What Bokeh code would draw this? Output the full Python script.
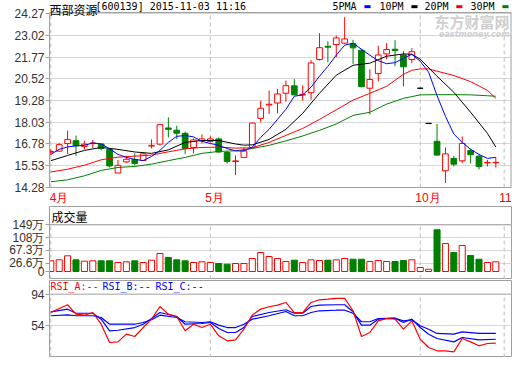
from bokeh.plotting import figure
from bokeh.layouts import column
from bokeh.models import FixedTicker, Label, Range1d, Span
from bokeh.embed import file_html
from bokeh.resources import INLINE

# ---------------- data ----------------
stock_name = "西部资源"
stock_info = "[600139] 2015-11-03 11:16"

month_pos = [0, 19, 44, 54]
month_labels = ["4月", "5月", "10月", "11月"]

price_ticks = [14.28, 15.53, 16.78, 18.03, 19.28, 20.52, 21.77, 23.02, 24.27]
price_tick_labels = ["14.28", "15.53", "16.78", "18.03", "19.28", "20.52", "21.77", "23.02", "24.27"]

vol_ticks = [0, 26.6, 67.3, 108, 149]
vol_tick_labels = ["0", "26.6万", "67.3万", "108万", "149万"]

rsi_ticks = [0, 54, 94]
rsi_tick_labels = ["0", "54", "94"]

ma_names = ["5PMA", "10PM", "20PM", "30PM"]
rsi_names = ["RSI_A:--", "RSI_B:--", "RSI_C:--"]

opens = [16.31, 16.37, 16.80, 16.97, 16.64, 16.80, 16.78, 16.47, 15.11, 15.75,
         15.89, 15.83, 16.66, 16.77, 17.70, 17.57, 17.39, 16.58, 16.96, 16.93,
         17.07, 16.29, 15.77, 16.01, 16.58, 18.25, 19.02, 19.13, 19.69, 20.12,
         19.59, 19.72, 21.63, 22.39, 22.49, 22.57, 22.53, 22.16, 19.98, 20.82,
         21.95, 22.22, 21.89, 21.63, 19.98, 17.96, 16.93, 15.24, 15.95, 15.81,
         16.41, 16.08, 15.69, 15.70]
highs = [16.48, 16.83, 17.54, 17.26, 16.97, 17.00, 16.80, 16.50, 15.86, 16.10,
         16.24, 16.25, 17.04, 17.92, 18.31, 17.83, 17.49, 17.10, 17.33, 17.22,
         17.16, 16.38, 16.12, 16.58, 18.00, 19.27, 19.85, 19.94, 20.42, 20.50,
         20.15, 21.59, 23.14, 22.68, 23.01, 24.06, 22.76, 22.24, 21.07, 22.42,
         22.57, 22.74, 22.11, 22.28, 19.98, 17.96, 17.93, 16.58, 16.09, 17.21,
         16.52, 16.14, 15.86, 16.01]
lows = [16.14, 16.33, 16.20, 16.10, 16.47, 16.55, 16.41, 15.43, 15.11, 15.69,
        15.55, 15.80, 16.52, 16.70, 17.16, 17.06, 16.21, 16.24, 16.81, 16.87,
        16.27, 15.66, 15.00, 16.00, 16.50, 18.02, 18.50, 18.54, 19.21, 19.57,
        19.27, 19.32, 21.57, 21.47, 21.76, 22.51, 21.38, 20.03, 18.48, 20.38,
        21.65, 21.24, 20.09, 21.42, 19.98, 17.96, 16.12, 14.54, 15.49, 15.69,
        15.66, 15.32, 15.49, 15.43]
closes = [16.35, 16.74, 17.03, 16.68, 16.77, 16.83, 16.52, 15.52, 15.55, 15.90,
          15.66, 16.21, 16.70, 17.89, 17.62, 17.40, 16.52, 17.01, 17.07, 17.07,
          16.32, 15.78, 15.81, 16.38, 17.98, 18.83, 19.06, 19.65, 20.13, 19.60,
          19.63, 21.43, 22.31, 22.34, 22.87, 22.81, 22.30, 20.07, 20.48, 21.89,
          22.20, 22.15, 21.21, 22.08, 19.98, 17.96, 16.14, 16.21, 15.62, 16.81,
          16.16, 15.48, 15.72, 15.72]
volumes = [34.1, 37.3, 50.1, 37.3, 32.9, 34.1, 34.1, 34.1, 28.7, 31.0,
           34.1, 28.7, 36.1, 57.4, 44.7, 37.3, 34.1, 28.7, 31.0, 28.7,
           25.5, 23.3, 25.5, 25.5, 41.5, 60.6, 47.9, 41.5, 31.9, 36.1,
           28.7, 37.3, 35.1, 36.1, 37.3, 41.5, 39.2, 39.2, 31.9, 35.1,
           31.9, 31.9, 35.1, 37.3, 12.8, 7.3, 133.1, 89.3, 60.6, 83.0,
           51.1, 39.2, 28.7, 31.0]

ma5 = [16.18, 16.47, 16.61, 16.67, 16.70, 16.84, 16.78, 16.50, 16.18, 16.01,
       15.89, 15.83, 16.06, 16.41, 16.87, 17.22, 17.26, 17.19, 16.93, 16.81,
       16.70, 16.52, 16.38, 16.38, 16.60, 17.16, 17.62, 18.19, 18.77, 19.52,
       19.60, 20.04, 20.67, 21.24, 21.88, 22.45, 22.57, 22.22, 21.88, 21.56,
       21.39, 21.45, 21.70, 21.93, 21.53, 20.90, 19.56, 18.37, 17.35, 16.87,
       16.47, 16.18, 15.95, 16.01]
ma10_x = [0, 2, 4, 6, 8, 10, 12, 14, 16, 18, 20, 22, 23, 24, 26, 28, 30, 32, 34, 36,
          38, 40, 42, 43, 44, 46, 48, 50, 52, 53]
ma10 = [15.82, 16.12, 16.41, 16.58, 16.47, 16.32, 16.24, 16.44, 16.87, 16.98,
        16.98, 16.78, 16.71, 16.73, 17.04, 17.62, 18.54, 19.69, 20.73, 21.30,
        21.42, 21.82, 21.95, 21.93, 21.65, 20.67, 19.75, 18.60, 17.39, 16.61]
ma20_x = [0, 2, 4, 6, 8, 10, 12, 14, 16, 18, 20, 22, 24, 26, 28, 30, 32, 34, 36, 38,
          40, 42, 43, 44, 45, 46, 48, 50, 52, 53]
ma20 = [15.17, 15.33, 15.56, 15.87, 16.02, 16.08, 16.14, 16.33, 16.50, 16.58,
        16.60, 16.54, 16.56, 16.87, 17.27, 17.67, 18.19, 18.74, 19.30, 19.69,
        20.09, 20.78, 21.01, 21.09, 21.09, 20.96, 20.71, 20.36, 19.86, 19.40]
ma30_x = [0, 2, 4, 6, 8, 10, 12, 14, 16, 18, 20, 22, 24, 26, 28, 30, 32, 34, 36, 38,
          40, 42, 44, 46, 48, 50, 52, 53]
ma30 = [14.61, 14.72, 14.95, 15.26, 15.43, 15.49, 15.62, 15.82, 16.01, 16.24,
        16.35, 16.39, 16.52, 16.70, 16.96, 17.24, 17.56, 17.93, 18.42, 18.60,
        19.07, 19.40, 19.60, 19.61, 19.61, 19.60, 19.55, 19.52]

rsi_a = [70.8, 75.9, 80.6, 68.7, 67.4, 70.8, 56.0, 32.9, 33.7, 43.4,
         40.5, 51.8, 62.4, 78.4, 68.7, 65.8, 47.7, 56.0, 51.8, 56.0,
         41.3, 35.0, 36.3, 49.7, 67.7, 75.0, 78.1, 80.1, 83.5, 70.8,
         70.8, 83.5, 86.9, 87.7, 88.6, 88.6, 73.0, 40.5, 45.5, 60.3,
         63.2, 62.4, 49.7, 60.3, 37.0, 26.5, 22.4, 22.4, 21.1, 37.9,
         33.7, 28.7, 31.6, 32.0]
rsi_bc_x = [0, 2, 3, 5, 6, 7, 8, 10, 11, 12, 13, 15, 16, 18, 19, 20, 21, 22, 23, 24,
            26, 28, 29, 30, 31, 32, 34, 35, 36, 37, 38, 39, 41, 42, 43, 44, 45, 46, 48, 49,
            51, 53]
rsi_b = [71.7, 75.0, 69.9, 69.9, 62.4, 47.7, 48.4, 51.8, 56.0, 63.2,
         70.8, 65.8, 56.0, 56.9, 58.2, 50.6, 45.5, 45.5, 51.8, 65.8,
         70.8, 74.3, 69.9, 69.9, 78.4, 80.1, 80.6, 80.6, 71.7, 54.8,
         54.8, 62.4, 63.6, 58.2, 62.4, 51.8, 43.4, 37.9, 33.7, 39.2,
         36.3, 37.0]
rsi_c = [66.7, 67.9, 66.7, 66.7, 64.5, 56.0, 56.0, 56.0, 58.2, 61.6,
         67.4, 64.5, 59.1, 58.2, 59.1, 54.8, 51.8, 51.8, 56.0, 62.4,
         66.7, 72.1, 66.7, 66.7, 70.8, 73.0, 73.7, 73.7, 69.9, 59.1,
         59.1, 63.2, 63.6, 60.3, 61.6, 54.0, 49.7, 44.3, 43.4, 46.4,
         44.3, 44.3]

# ---------------- style ----------------
RED = "#ff0000"
GREEN = "#008000"
BLUE = "#0000ff"
BORDER = "#a0a0a0"
GRID = "#d6d6d6"
DASH = "#bdbdbd"
AXIS_FONT = "Liberation Sans"
MONO = "DejaVu Sans Mono"
CJK = "Noto Sans CJK SC"

idx = list(range(len(closes)))
xr = Range1d(-0.155, 54.87)

P_LO, P_HI = 14.28, 24.33          # main panel box (bottom / top border)
main_yr = Range1d(13.246, 25.019)  # frame also covers title row and month row

candle_col = []
candle_fill = []
for o, h, l, c in zip(opens, highs, lows, closes):
    if h == l:
        candle_col.append("black"); candle_fill.append("white")
    elif c >= o:
        candle_col.append(RED); candle_fill.append("white")
    else:
        candle_col.append(GREEN); candle_fill.append(GREEN)
vol_col = [RED if c >= o else GREEN for o, c in zip(opens, closes)]
vol_fill = ["white" if c >= o else GREEN for o, c in zip(opens, closes)]
body_top = [max(o, c) for o, c in zip(opens, closes)]
body_bot = [min(o, c) for o, c in zip(opens, closes)]


def make_fig(height, yr, top, bottom, ticks, labels):
    p = figure(width=512, height=height, x_range=xr, y_range=yr,
               output_backend="svg", toolbar_location=None, tools="",
               x_axis_location=None, min_border_left=49, min_border_right=1,
               min_border_top=top, min_border_bottom=bottom)
    p.outline_line_color = BORDER
    p.background_fill_color = "white"
    p.border_fill_color = "white"
    ax = p.yaxis[0]
    ax.ticker = FixedTicker(ticks=ticks)
    ax.major_label_overrides = {t: s for t, s in zip(ticks, labels)}
    ax.major_tick_out = 4
    ax.major_tick_in = 0
    ax.minor_tick_out = 0
    ax.minor_tick_in = 0
    ax.major_tick_line_color = BORDER
    ax.axis_line_color = BORDER
    ax.major_label_standoff = 1
    ax.major_label_text_font = AXIS_FONT
    ax.major_label_text_font_size = "12px"
    ax.major_label_text_color = "#333333"
    p.xgrid.visible = False
    p.ygrid.grid_line_color = GRID
    return p


def txt(p, x, y, text, color="black", size="12px", font=MONO, xo=0, yo=0,
        align="left", baseline="middle", style="normal"):
    p.add_layout(Label(x=x, y=y, x_units="data", y_units="data", x_offset=xo, y_offset=yo,
                       text=text, text_color=color, text_font_size=size, text_font=font,
                       text_align=align, text_baseline=baseline, text_font_style=style))


# ---------------- main price panel ----------------
main = make_fig(205, main_yr, 0, 0, price_ticks, price_tick_labels)
main.outline_line_color = None
main.yaxis[0].bounds = (P_LO, P_HI)
main.ygrid.ticker = FixedTicker(ticks=price_ticks)
main.segment(x0=month_pos, y0=[P_LO] * 4, x1=month_pos, y1=[P_HI] * 4,
             line_color=DASH, line_dash="4 3", line_width=1)
main.add_layout(Span(location=P_HI, dimension="width", line_color=BORDER, line_width=1))
main.add_layout(Span(location=P_LO, dimension="width", line_color=BORDER, line_width=1))
main.segment(x0=[xr.end], y0=[P_LO], x1=[xr.end], y1=[P_HI], line_color=BORDER, line_width=2)

main.segment(x0=idx, y0=lows, x1=idx, y1=highs, line_color=candle_col, line_width=1)
main.vbar(x=idx, width=0.68, top=body_top, bottom=body_bot,
          fill_color=candle_fill, line_color=candle_col, line_width=1)

main.line(ma30_x, ma30, line_color=GREEN, line_width=1)
main.line(ma20_x, ma20, line_color=RED, line_width=1)
main.line(ma10_x, ma10, line_color="black", line_width=1)
main.line(idx, ma5, line_color=BLUE, line_width=1)

# title
txt(main, xr.start, main_yr.end, stock_name, font=CJK, size="12px", xo=0, yo=0,
    baseline="top")
txt(main, xr.start, P_HI, stock_info, font=MONO, size="10px", xo=46, yo=6)
# legend
leg_colors = [BLUE, "black", RED, GREEN]
leg_offsets = [283, 330, 375, 421]
for name, col, off in zip(ma_names, leg_colors, leg_offsets):
    txt(main, xr.start, P_HI, name, font=MONO, size="10px", xo=off, yo=6)
    txt(main, xr.start, P_HI, "\u25ac", color=col, font="DejaVu Sans", size="8px",
        xo=off + 31, yo=6)
# watermark
txt(main, xr.end, P_HI, "东方财富网", color="#cfcfcf", font=CJK, size="15px",
    xo=-2, yo=-9, align="right", style="bold")
txt(main, xr.end, P_HI, "eastmoney.com", color="#cfcfcf", font="DejaVu Sans", size="8px",
    xo=-2, yo=-22, align="right", style="bold italic")
# month labels (first one kept inside the panel's left edge)
month_shift = [-1, -5, -5, -5]
for pos, lab, sh in zip(month_pos, month_labels, month_shift):
    txt(main, pos, P_LO, lab, color=RED, font=AXIS_FONT, size="12px", xo=sh, yo=-11)

# ---------------- volume panel ----------------
vol = make_fig(74, Range1d(-25.5, 207.4), 1, 0, vol_ticks, vol_tick_labels)
vol.ygrid.ticker = FixedTicker(ticks=vol_ticks[1:])
vol.segment(x0=month_pos, y0=[-25.5] * 4, x1=month_pos, y1=[149] * 4,
            line_color=DASH, line_dash="4 3", line_width=1)
vol.add_layout(Span(location=149, dimension="width", line_color=BORDER, line_width=1))
vol.vbar(x=idx, width=0.72, top=volumes, bottom=0,
         fill_color=vol_fill, line_color=vol_col, line_width=1)
txt(vol, xr.start, 207.4, "成交量", font=CJK, size="12px", xo=2, yo=-9.5)

# ---------------- RSI panel ----------------
rsi = make_fig(78, Range1d(13.9, 111.3), 1, 0, rsi_ticks, rsi_tick_labels)
rsi.ygrid.ticker = FixedTicker(ticks=[54])
rsi.segment(x0=month_pos, y0=[13.9] * 4, x1=month_pos, y1=[94] * 4,
            line_color=DASH, line_dash="4 3", line_width=1)
rsi.add_layout(Span(location=94, dimension="width", line_color=BORDER, line_width=1))
rsi.line(rsi_bc_x, rsi_c, line_color=BLUE, line_width=1.2)
rsi.line(rsi_bc_x, rsi_b, line_color=BLUE, line_width=1.2)
rsi.line(idx, rsi_a, line_color=RED, line_width=1.2)
rsi_colors = [RED, BLUE, BLUE]
rsi_offsets = [1, 53, 106]
for name, col, off in zip(rsi_names, rsi_colors, rsi_offsets):
    txt(rsi, xr.start, 111.3, name, color=col, font=MONO, size="10px", xo=off, yo=-6)

layout = column(main, vol, rsi, spacing=0)
open("out.html", "w").write(file_html(layout, INLINE))
